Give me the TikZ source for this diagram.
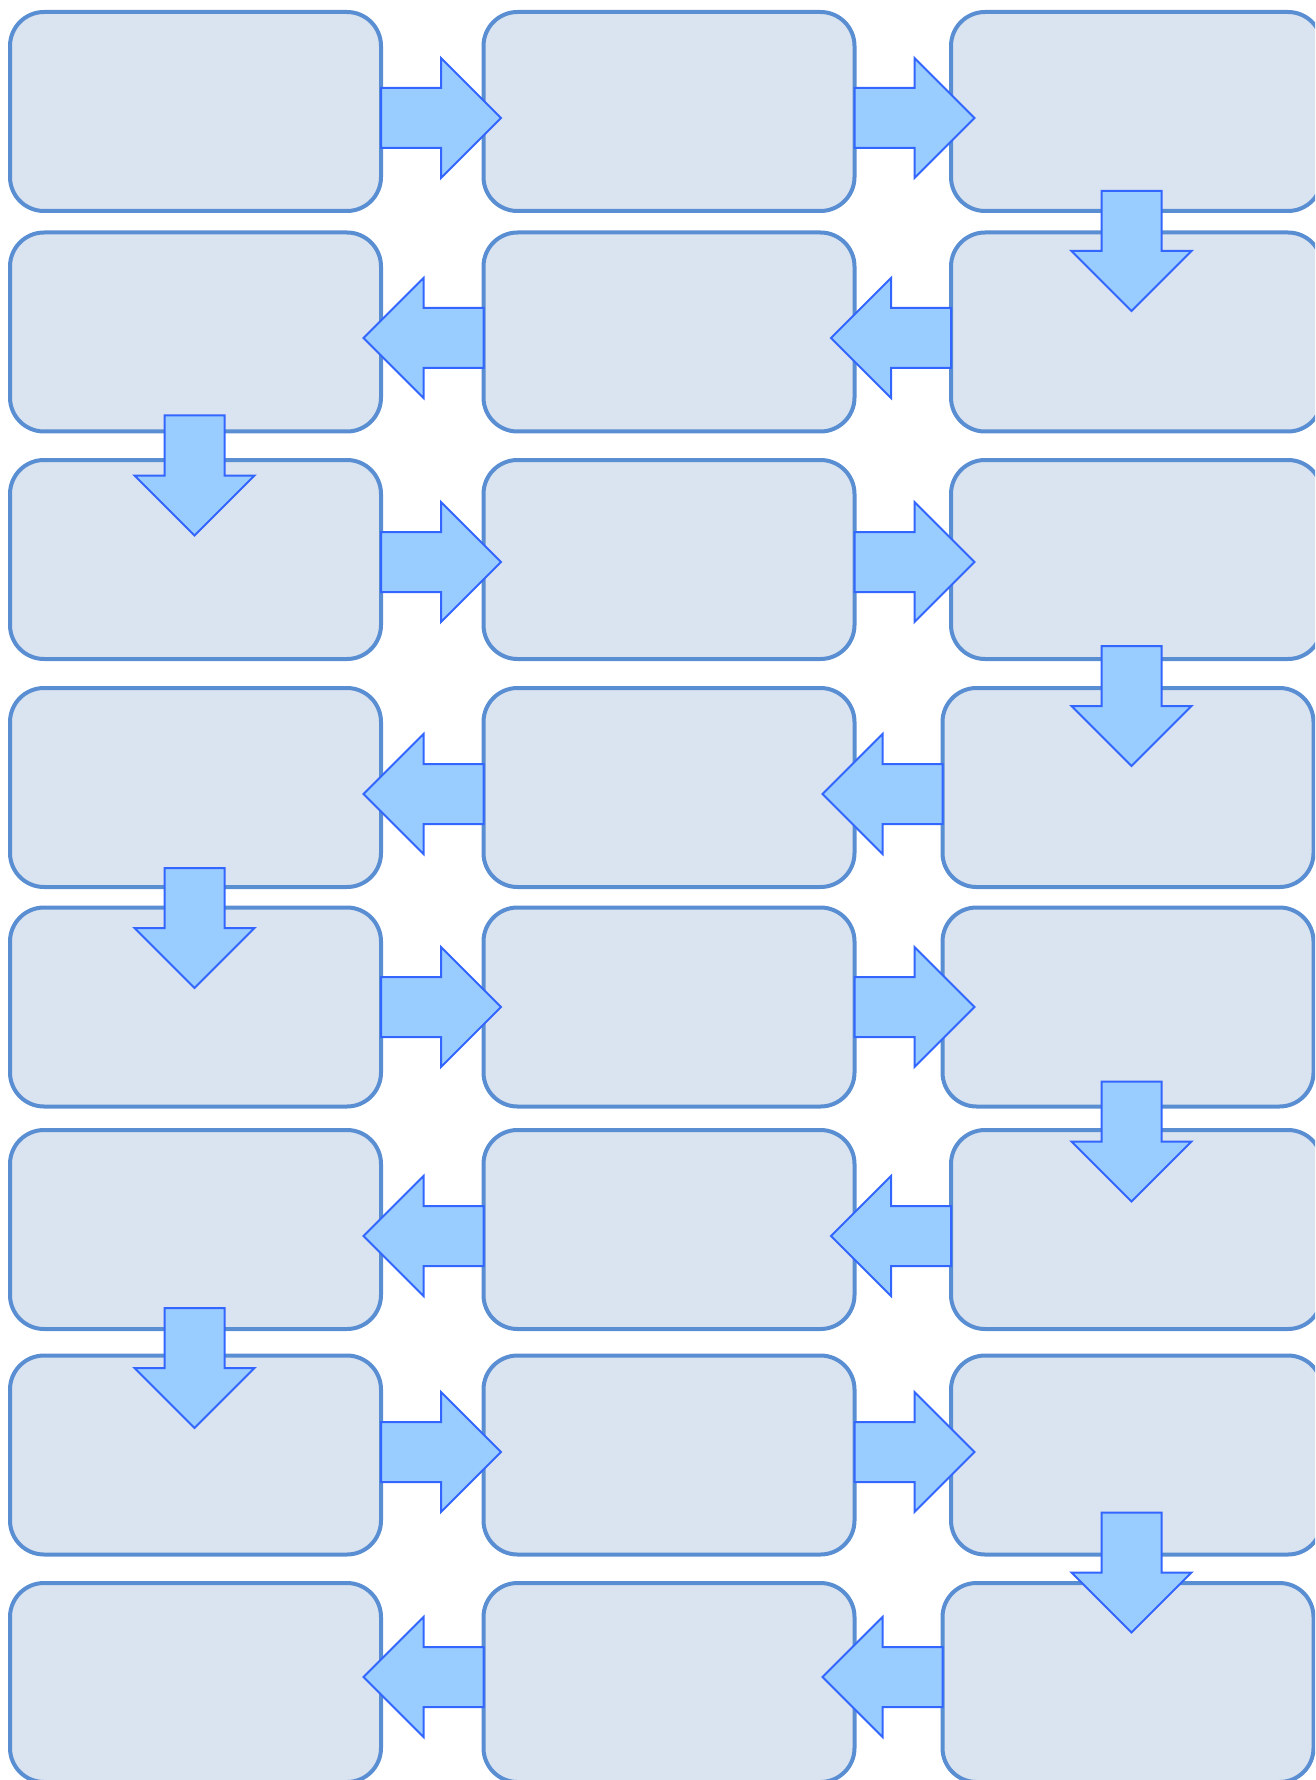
\documentclass[tikz,border=0pt]{standalone}
\usepackage{tikz}
\usetikzlibrary{calc}
\definecolor{cellbg}{HTML}{DAE3F0}
\definecolor{cellframe}{HTML}{5A8ED2}
\definecolor{flowbg}{HTML}{99CCFF}
\definecolor{flowframe}{HTML}{3366FF}

\begin{document}
\begin{tikzpicture}[
  x=0.1mm, y=-0.1mm,
  cell/.style={draw=cellframe, line width=0.4mm, fill=cellbg,
               rounded corners=3.4mm, minimum width=37.1mm,
               minimum height=19.9mm, inner sep=0pt, outer sep=0pt},
  blk/.pic={\draw[draw=flowframe, fill=flowbg, line width=0.2mm]
            (0,-30) -- (60,-30) -- (60,-60) -- (120,0) -- (60,60)
            -- (60,30) -- (0,30) -- cycle;},
  ]
  \clip (0,0) rectangle (1315,1780);

  \node[cell] (b11) at (195.5,111.5) {};
  \node[cell] (b12) at (669,111.5) {};
  \node[cell] (b13) at (1136.5,111.5) {};
  \node[cell] (b21) at (195.5,332) {};
  \node[cell] (b22) at (669,332) {};
  \node[cell] (b23) at (1136.5,332) {};
  \node[cell] (b31) at (195.5,559.5) {};
  \node[cell] (b32) at (669,559.5) {};
  \node[cell] (b33) at (1136.5,559.5) {};
  \node[cell] (b41) at (195.5,787.5) {};
  \node[cell] (b42) at (669,787.5) {};
  \node[cell] (b43) at (1128,787.5) {};
  \node[cell] (b51) at (195.5,1007) {};
  \node[cell] (b52) at (669,1007) {};
  \node[cell] (b53) at (1128,1007) {};
  \node[cell] (b61) at (195.5,1229.5) {};
  \node[cell] (b62) at (669,1229.5) {};
  \node[cell] (b63) at (1136.5,1229.5) {};
  \node[cell] (b71) at (195.5,1455) {};
  \node[cell] (b72) at (669,1455) {};
  \node[cell] (b73) at (1136.5,1455) {};
  \node[cell] (b81) at (195.5,1682.5) {};
  \node[cell] (b82) at (669,1682.5) {};
  \node[cell] (b83) at (1128,1682.5) {};

  \pic at ($(b11.east)+(0,6.5)$) {blk};
  \pic at ($(b12.east)+(0,6.5)$) {blk};
  \pic[rotate=-90] at ($(b13.south)+(-5,-20)$) {blk};
  \pic[rotate=180] at ($(b23.west)+(0,6)$) {blk};
  \pic[rotate=180] at ($(b22.west)+(0,6)$) {blk};
  \pic[rotate=-90] at ($(b21.south)+(-1,-16)$) {blk};
  \pic at ($(b31.east)+(0,2.5)$) {blk};
  \pic at ($(b32.east)+(0,2.5)$) {blk};
  \pic[rotate=-90] at ($(b33.south)+(-5,-13)$) {blk};
  \pic[rotate=180] at ($(b43.west)+(0,6.5)$) {blk};
  \pic[rotate=180] at ($(b42.west)+(0,6.5)$) {blk};
  \pic[rotate=-90] at ($(b41.south)+(-1,-19)$) {blk};
  \pic at ($(b51.east)+(0,0)$) {blk};
  \pic at ($(b52.east)+(0,0)$) {blk};
  \pic[rotate=-90] at ($(b53.south)+(3.5,-25)$) {blk};
  \pic[rotate=180] at ($(b63.west)+(0,6.5)$) {blk};
  \pic[rotate=180] at ($(b62.west)+(0,6.5)$) {blk};
  \pic[rotate=-90] at ($(b61.south)+(-1,-21)$) {blk};
  \pic at ($(b71.east)+(0,-3)$) {blk};
  \pic at ($(b72.east)+(0,-3)$) {blk};
  \pic[rotate=-90] at ($(b73.south)+(-5,-42)$) {blk};
  \pic[rotate=180] at ($(b83.west)+(0,-5.5)$) {blk};
  \pic[rotate=180] at ($(b82.west)+(0,-5.5)$) {blk};
\end{tikzpicture}
\end{document}
